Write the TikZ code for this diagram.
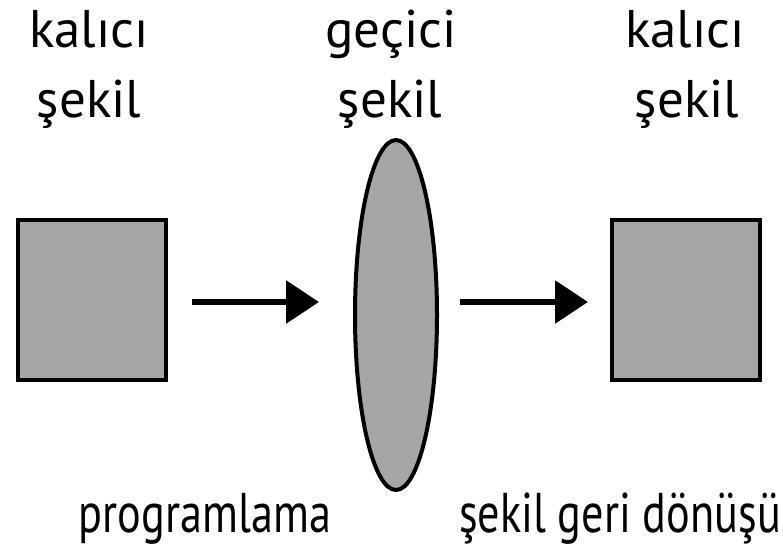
\documentclass[tikz,border=0pt]{standalone}
\usepackage{fontspec}
\usepackage{graphicx}
\setmainfont{PT Sans}
\usetikzlibrary{arrows.meta,shapes.geometric}
\begin{document}
\begin{tikzpicture}[x=1pt,y=-1pt,
  toptext/.style={anchor=base,inner sep=0pt,font=\fontsize{53}{53}\selectfont},
  bottext/.style={anchor=base,inner sep=0pt,font=\fontsize{56}{56}\selectfont},
  shapebox/.style={draw=black,line width=4pt,fill=black!35},
  flow/.style={line width=6pt,-{Triangle[length=33pt,width=42pt]},shorten >=0pt}]
\useasboundingbox (0,0) rectangle (783,546);
\node[toptext] (t1a) at (89,47) {kalıcı};
\node[toptext] (t1b) at (89,117) {şekil};
\node[toptext] (t2a) at (391,47) {geçici};
\node[toptext] (t2b) at (390,117) {şekil};
\node[toptext] (t3a) at (685,47) {kalıcı};
\node[toptext] (t3b) at (687,117) {şekil};
\node[shapebox,minimum width=148pt,minimum height=160pt,inner sep=0pt] (s1) at (92,300) {};
\node[shapebox,ellipse,minimum width=82pt,minimum height=350pt,inner sep=0pt] (e) at (396,315) {};
\node[shapebox,minimum width=148pt,minimum height=160pt,inner sep=0pt] (s2) at (686,300) {};
\coordinate (a1s) at (192,302);
\coordinate (a1e) at (319,302);
\coordinate (a2s) at (460,302);
\coordinate (a2e) at (588,302);
\draw[flow] (a1s) -- (a1e);
\draw[flow] (a2s) -- (a2e);
\node[bottext] (b1) at (205,532) {\scalebox{0.79}[1]{programlama}};
\node[bottext] (b2) at (620,532) {\scalebox{0.79}[1]{şekil geri dönüşü}};
\end{tikzpicture}
\end{document}
